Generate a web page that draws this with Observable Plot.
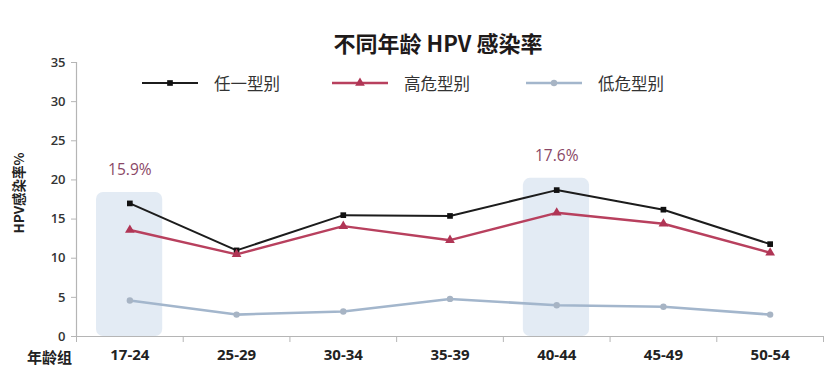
<!DOCTYPE html>
<html><head><meta charset="utf-8">
<script src="https://cdn.jsdelivr.net/npm/d3@7"></script>
<script src="https://cdn.jsdelivr.net/npm/@observablehq/plot@0.6"></script>
<style>
body{margin:0;background:#fff;}
#wrap{position:relative;width:832px;height:379px;font-family:"Open Sans","Noto Sans CJK SC",sans-serif;color:#222;}
#title{position:absolute;left:0;top:28px;width:876px;text-align:center;font-size:22px;font-weight:700;line-height:28px;color:#1e1a1a;font-family:"Noto Sans CJK SC","Open Sans",sans-serif;}
.leg{position:absolute;top:72px;height:22px;display:flex;align-items:center;font-size:16.5px;color:#333;font-family:"Noto Sans CJK SC",sans-serif;}
.leg svg{margin-right:16px;}
#ylab{position:absolute;left:18px;top:193px;transform:translate(-50%,-50%) rotate(-90deg);white-space:nowrap;font-size:13.5px;font-weight:700;color:#222;font-family:"Noto Sans CJK SC",sans-serif;}
#xlab{position:absolute;left:27px;top:346px;font-size:15px;font-weight:700;color:#222;font-family:"Noto Sans CJK SC",sans-serif;line-height:22px;}
#chart{position:absolute;left:0;top:0;}
</style></head>
<body><div id="wrap">
<div id="chart"></div>
<div id="title">不同年龄 HPV 感染率</div>
<div id="ylab">HPV感染率%</div>
<div id="xlab">年龄组</div>
</div>
<script>
const categories = ["17-24","25-29","30-34","35-39","40-44","45-49","50-54"];
const anyType  = [17.0, 11.0, 15.5, 15.4, 18.7, 16.2, 11.8];
const highRisk = [13.6, 10.5, 14.1, 12.3, 15.8, 14.4, 10.7];
const lowRisk  = [4.6, 2.8, 3.2, 4.8, 4.0, 3.8, 2.8];
const seriesNames = ["任一型别","高危型别","低危型别"];
const yTicks = [0,5,10,15,20,25,30,35];
const highlightCats = ["17-24","40-44"];
const highlightTop = [18.4, 20.2];
const highlightLabels = ["15.9%","17.6%"];

const seriesStyle = [
  {stroke:"#1c1c1c", fill:"#111", symbol:"square", r:3.2, width:2},
  {stroke:"#b8405e", fill:"#b03555", symbol:"triangle", r:3.6, width:2.4},
  {stroke:"#a3b6cc", fill:"#a7b4c4", symbol:"circle", r:3.2, width:2.6}
];
const seriesValues = [anyType, highRisk, lowRisk];

const W = 832, H = 379, mL = 76, mR = 9, mT = 62, mB = 43;
const bw = (W - mL - mR) / categories.length;

const highlights = highlightCats.map((c,i)=>({cat:c, top:highlightTop[i], label:highlightLabels[i]}));
const seriesData = seriesValues.map((vals,s)=>categories.map((c,i)=>({cat:c, v:vals[i], series:seriesNames[s]})));

const marks = [
  Plot.rectY(highlights, {x:"cat", y1:0, y2:"top", fill:"#e3ebf4", insetLeft:20, insetRight:20.5, rx:7}),
  Plot.text(highlights, {x:"cat", y:"top", text:"label", dy:-22, fill:"#8a4766", fontSize:15.5}),
  Plot.ruleY([0], {stroke:"#b5b5b5", strokeWidth:1.2}),
  Plot.frame({anchor:"left", stroke:"#b5b5b5", strokeWidth:1.2}),
  Plot.axisY(yTicks, {tickSize:5, tickPadding:6, stroke:"#b5b5b5", fill:"#333", fontSize:13, fontWeight:600, label:null}),
  Plot.axisX(categories, {tickSize:0, tickPadding:13, fill:"#222", fontSize:15, fontWeight:700, label:null}),
  Plot.axisX(categories, {tickSize:6, tickFormat:()=>"", dx:bw/2, stroke:"#b5b5b5", label:null}),
  Plot.axisX(categories.slice(0,1), {tickSize:6, tickFormat:()=>"", dx:-bw/2, stroke:"#b5b5b5", label:null})
];
seriesData.forEach((d,s)=>{
  const st = seriesStyle[s];
  marks.push(Plot.lineY(d, {x:"cat", y:"v", stroke:st.stroke, strokeWidth:st.width}));
  marks.push(Plot.dot(d, {x:"cat", y:"v", symbol:st.symbol, r:st.r, fill:st.fill, stroke:"none"}));
});

const chart = Plot.plot({
  width: W, height: H,
  marginLeft: mL, marginRight: mR, marginTop: mT, marginBottom: mB,
  style: {fontFamily:'"Open Sans","Noto Sans CJK SC",sans-serif', background:"transparent", color:"#333"},
  x: {type:"band", domain:categories, padding:0, round:false, axis:null},
  y: {domain:[0,35], axis:null},
  marks
});
document.getElementById("chart").appendChild(chart);

// legend
const legendX = [142, 332, 526];
const wrap = document.getElementById("wrap");
seriesNames.forEach((name,s)=>{
  const st = seriesStyle[s];
  const div = document.createElement("div");
  div.className = "leg";
  div.style.left = legendX[s] + "px";
  const sw = 56;
  const svg = d3.create("svg").attr("width", sw).attr("height", 14);
  svg.append("line").attr("x1",0).attr("x2",sw).attr("y1",7).attr("y2",7).attr("stroke",st.stroke).attr("stroke-width",st.width);
  const sym = {square:d3.symbolSquare, triangle:d3.symbolTriangle, circle:d3.symbolCircle}[st.symbol];
  svg.append("path").attr("transform",`translate(${sw/2},7)`).attr("d", d3.symbol(sym, Math.PI*st.r*st.r)()).attr("fill", st.fill);
  div.appendChild(svg.node());
  const span = document.createElement("span");
  span.textContent = name;
  div.appendChild(span);
  wrap.appendChild(div);
});
</script>
</body></html>
